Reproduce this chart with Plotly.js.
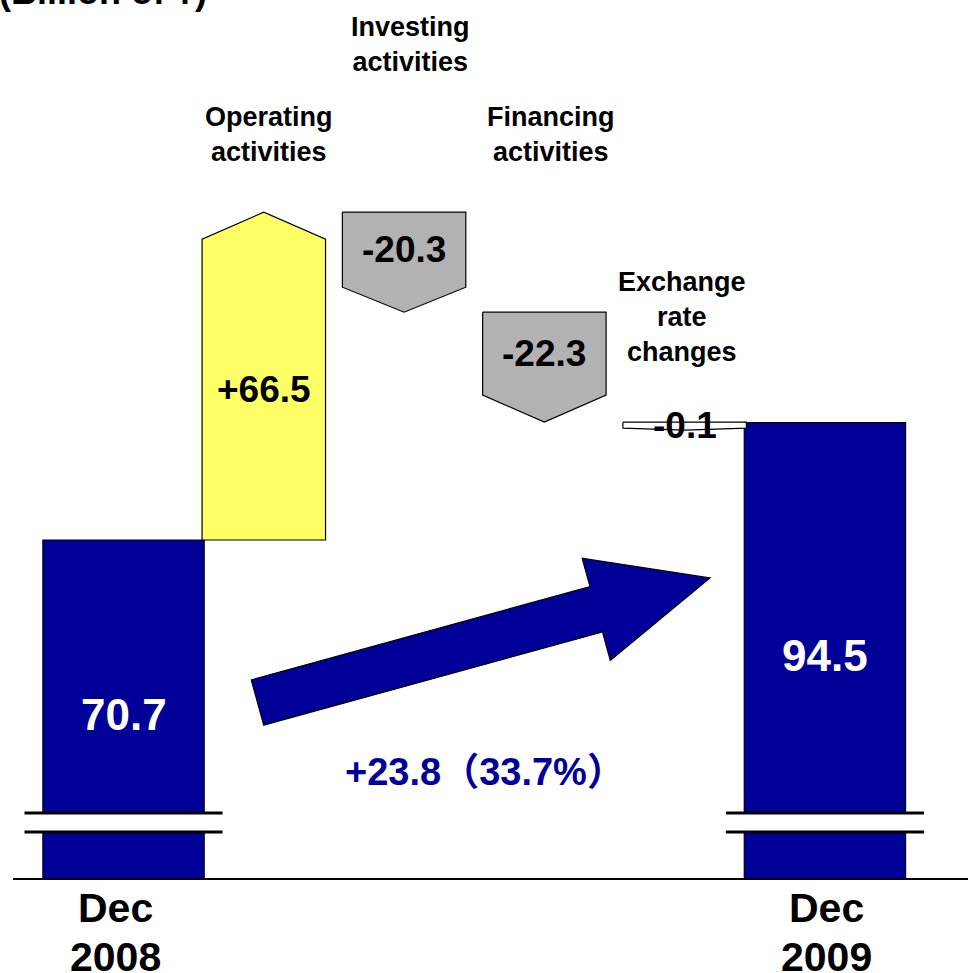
<!DOCTYPE html>
<html>
<head>
<meta charset="utf-8">
<script src="https://cdn.plot.ly/plotly-3.0.1.min.js"></script>
<style>html,body{margin:0;padding:0;background:#fff;}#chart{width:968px;height:973px;}</style>
</head>
<body>
<div id="chart"></div>
<script>
// ---- data ----
const categories = ['Dec 2008', 'Operating activities', 'Investing activities', 'Financing activities', 'Exchange rate changes', 'Dec 2009'];
const startTotal = 70.7;
const endTotal = 94.5;
const changes = [66.5, -20.3, -22.3, -0.1];
const changeLabels = ['+66.5', '-20.3', '-22.3', '-0.1'];
const totalLabels = ['70.7', '94.5'];
const changeNames = ['Operating<br>activities', 'Investing<br>activities', 'Financing<br>activities', 'Exchange<br>rate<br>changes'];
const periodNames = ['Dec<br>2008', 'Dec<br>2009'];
const growthText = '+23.8（33.7%）';
const unitText = '(Billion of ¥)';

// ---- style ----
const FONT = 'Liberation Sans, Arial, Noto Sans CJK JP, sans-serif';
const NAVY = '#000099';
const changeColors = ['#FFFF66', '#B2B2B2', '#B2B2B2', '#FFFFFF'];
const HEAD = 5.5;          // arrow-head height in value units
const MIN_THICK = 1.6;     // minimum drawn thickness for tiny steps
const CHANGE_W = 0.88, TOTAL_W = 1.15;
const nameBottomPx = [169, 79, 169, 369];
const nameShiftPx = [5, 6, 7, -3];
const periodShiftPx = [-8, 2];
const periodLinePx = [908, 957];

const ML = 13, MT = 0, MB = 95, W = 968, H = 973;
const plotW = W - ML, plotH = H - MT - MB;
const xr = [-0.788, 6.02];
const yr = [2.14, 180.23];

function px2paperX(px) { return (px - ML) / plotW; }
function px2paperY(py) { return (MT + plotH - py) / plotH; }

// ---- build ----
const traces = [];
traces.push({
  type: 'bar', x: [0, categories.length - 1], y: [startTotal, endTotal],
  width: [TOTAL_W, TOTAL_W],
  marker: {color: NAVY, line: {color: '#000', width: 1.2}},
  hoverinfo: 'skip', showlegend: false
});

const annotations = [];
let level = startTotal;
const bodyMid = [];
changes.forEach((d, i) => {
  const cx = i + 1;
  const x0 = cx - CHANGE_W / 2, x1 = cx + CHANGE_W / 2;
  const thick = Math.max(Math.abs(d), MIN_THICK);
  const sign = d >= 0 ? 1 : -1;
  const base = level;
  const tip = base + sign * thick;
  const head = Math.min(HEAD, thick * 0.25);
  const shoulder = tip - sign * head;
  traces.push({
    type: 'scatter', mode: 'lines', fill: 'toself',
    x: [x0, x1, x1, cx, x0, x0],
    y: [base, base, shoulder, tip, shoulder, base],
    fillcolor: changeColors[i], line: {color: '#000', width: 1.2},
    hoverinfo: 'skip', showlegend: false
  });
  bodyMid.push((base + shoulder) / 2);
  level = level + d;
});

changes.forEach((d, i) => {
  annotations.push({
    x: i + 1, y: bodyMid[i], xref: 'x', yref: 'y', text: '<b>' + changeLabels[i] + '</b>',
    showarrow: false, font: {family: FONT, size: 37, color: '#000'}
  });
  annotations.push({
    x: i + 1, y: px2paperY(nameBottomPx[i]), xref: 'x', yref: 'paper', xshift: nameShiftPx[i],
    yanchor: 'bottom', text: '<b>' + changeNames[i] + '</b>', showarrow: false,
    font: {family: FONT, size: 27, color: '#000'}
  });
});

[startTotal, endTotal].forEach((v, k) => {
  const cx = k === 0 ? 0 : categories.length - 1;
  annotations.push({
    x: cx, y: v / 2, xref: 'x', yref: 'y', text: '<b>' + totalLabels[k] + '</b>',
    showarrow: false, font: {family: FONT, size: 44, color: '#fff'}
  });
  periodNames[k].split('<br>').forEach((line, j) => {
    annotations.push({
      x: cx, y: px2paperY(periodLinePx[j]), xref: 'x', yref: 'paper', yanchor: 'middle', xshift: periodShiftPx[k],
      text: '<b>' + line + '</b>', showarrow: false,
      font: {family: FONT, size: 41, color: '#000'}
    });
  });
});

annotations.push({
  x: px2paperX(485), y: px2paperY(775), xref: 'paper', yref: 'paper', yshift: -20,
  text: '<b>' + growthText + '</b>', showarrow: false,
  font: {family: FONT, size: 38, color: NAVY}
});

annotations.push({
  x: px2paperX(-3), y: 1, xref: 'paper', yref: 'paper', xanchor: 'left', yanchor: 'bottom', yshift: -14,
  text: '<b>' + unitText + '</b>', showarrow: false,
  font: {family: FONT, size: 36, color: '#000'}
});

const shapes = [];
const brkTop = px2paperY(813), brkBot = px2paperY(832);
[0, categories.length - 1].forEach(cx => {
  shapes.push({type: 'rect', xref: 'x', yref: 'paper', x0: cx - 0.706, x1: cx + 0.706, y0: brkBot, y1: brkTop,
    fillcolor: '#fff', line: {width: 0}, layer: 'above'});
  shapes.push({type: 'line', xref: 'x', yref: 'paper', x0: cx - 0.706, x1: cx + 0.706, y0: brkTop, y1: brkTop,
    line: {color: '#000', width: 3}, layer: 'above'});
  shapes.push({type: 'line', xref: 'x', yref: 'paper', x0: cx - 0.706, x1: cx + 0.706, y0: brkBot, y1: brkBot,
    line: {color: '#000', width: 3}, layer: 'above'});
});

(function () {
  const tail = [257.5, 702.5], tipP = [710, 578];
  const shaftHalf = 23.5, headHalf = 53, headLen = 118;
  const dx = tipP[0] - tail[0], dy = tipP[1] - tail[1];
  const L = Math.hypot(dx, dy);
  const u = [dx / L, dy / L], n = [-u[1], u[0]];
  const hb = [tipP[0] - headLen * u[0], tipP[1] - headLen * u[1]];
  const pts = [
    [tail[0] + shaftHalf * n[0], tail[1] + shaftHalf * n[1]],
    [hb[0] + shaftHalf * n[0], hb[1] + shaftHalf * n[1]],
    [hb[0] + headHalf * n[0], hb[1] + headHalf * n[1]],
    tipP,
    [hb[0] - headHalf * n[0], hb[1] - headHalf * n[1]],
    [hb[0] - shaftHalf * n[0], hb[1] - shaftHalf * n[1]],
    [tail[0] - shaftHalf * n[0], tail[1] - shaftHalf * n[1]]
  ];
  const path = 'M ' + pts.map(p => px2paperX(p[0]).toFixed(5) + ',' + px2paperY(p[1]).toFixed(5)).join(' L ') + ' Z';
  shapes.push({type: 'path', xref: 'paper', yref: 'paper', path: path, fillcolor: NAVY,
    line: {color: '#000', width: 1.2}, layer: 'above'});
})();

const layout = {
  width: W, height: H,
  margin: {l: ML, r: 0, t: MT, b: MB, pad: 0},
  paper_bgcolor: '#fff', plot_bgcolor: '#fff',
  showlegend: false,
  xaxis: {range: xr, showline: true, linecolor: '#000', linewidth: 2, showgrid: false, zeroline: false,
    showticklabels: false, ticks: '', fixedrange: true},
  yaxis: {range: yr, visible: false, showgrid: false, zeroline: false, fixedrange: true},
  annotations: annotations,
  shapes: shapes,
  font: {family: FONT}
};

Plotly.newPlot('chart', traces, layout, {displayModeBar: false, staticPlot: true});
</script>
</body>
</html>
